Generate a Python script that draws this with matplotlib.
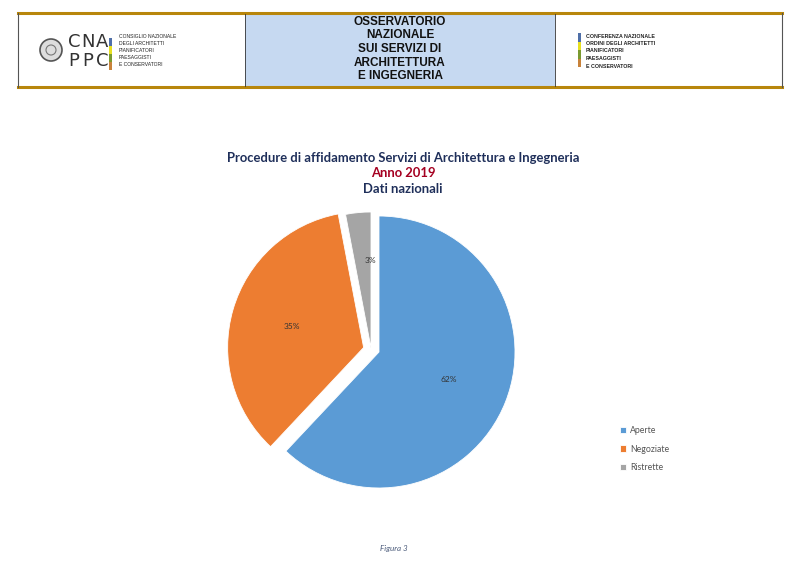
import matplotlib.pyplot as plt
from matplotlib.patches import Rectangle, Circle

# dati: procedure di affidamento SIA, anno 2019
categorie = ['Aperte', 'Negoziate', 'Ristrette']
percentuali = [62, 35, 3]
colori = ['#5b9bd5', '#ed7d31', '#a5a5a5']

titolo = 'Procedure di affidamento Servizi di Architettura e Ingegneria'
anno = 'Anno 2019'
sottotitolo = 'Dati nazionali'

testo_centro = ['OSSERVATORIO', 'NAZIONALE', 'SUI SERVIZI DI', 'ARCHITETTURA', 'E INGEGNERIA']
testo_sx = ['CONSIGLIO NAZIONALE', 'DEGLI ARCHITETTI', 'PIANIFICATORI', 'PAESAGGISTI', 'E CONSERVATORI']
testo_dx = ['CONFERENZA NAZIONALE', 'ORDINI DEGLI ARCHITETTI', 'PIANIFICATORI', 'PAESAGGISTI', 'E CONSERVATORI']
bande = ['#4f6fa8', '#e8e020', '#7a9a30', '#c8823a']

W, H = 800, 575
fig = plt.figure(figsize=(8, 5.75), dpi=100)
ax = fig.add_axes([0, 0, 1, 1])

# intestazione (coordinate in pixel, y verso il basso)
def Y(y):
    return H - y

oro = '#b8860b'
ax.add_patch(Rectangle((245, Y(86)), 310, 72, facecolor='#c6d9f1', edgecolor='none'))
ax.plot([18, 782], [Y(13), Y(13)], color=oro, lw=2.2)
ax.plot([18, 782], [Y(87), Y(87)], color=oro, lw=2.2)
ax.plot([18, 18], [Y(13), Y(87)], color='#555555', lw=0.8)
ax.plot([782, 782], [Y(13), Y(87)], color='#555555', lw=0.8)
ax.plot([245, 245], [Y(14), Y(86)], color='#333333', lw=0.6)
ax.plot([555, 555], [Y(14), Y(86)], color='#333333', lw=0.6)

for i, t in enumerate(testo_centro):
    ax.text(400, Y(22 + i * 13.5), t, ha='center', va='center', fontsize=8.5,
            fontweight='bold', family='Liberation Sans', color='#111111')

# logo a sinistra
ax.add_patch(Circle((51, Y(50)), 11, facecolor='#dddddd', edgecolor='#555555', lw=1.2))
ax.add_patch(Circle((51, Y(50)), 5, facecolor='none', edgecolor='#777777', lw=0.8))
for j, (riga, yy) in enumerate([('CNA', 42), ('PPC', 61)]):
    for k, ch in enumerate(riga):
        ax.text(74 + k * 14, Y(yy), ch, ha='center', va='center', fontsize=13,
                family='DejaVu Sans', color='#333333', transform=ax.transData)
for i, c in enumerate(bande):
    ax.add_patch(Rectangle((109, Y(38 + (i + 1) * 8)), 3, 8, facecolor=c, edgecolor='none'))
    ax.add_patch(Rectangle((578, Y(33 + (i + 1) * 8.5)), 3, 8.5, facecolor=c, edgecolor='none'))
for i, t in enumerate(testo_sx):
    ax.text(119, Y(36 + i * 7.2), t, ha='left', va='center', fontsize=3.6,
            family='Liberation Sans', color='#222222')
for i, t in enumerate(testo_dx):
    ax.text(586, Y(36 + i * 7.5), t, ha='left', va='center', fontsize=3.8,
            family='Liberation Sans', fontweight='bold', color='#222222')

# titolo
ax.text(403, Y(158), titolo, ha='center', va='center', fontsize=9.4, fontweight='bold',
        family='Lato', color='#1f2f5a')
ax.text(403, Y(173), anno, ha='center', va='center', fontsize=9.4, fontweight='bold',
        family='Lato', color='#a50021')
ax.text(403, Y(189), sottotitolo, ha='center', va='center', fontsize=9.4, fontweight='bold',
        family='Lato', color='#1f2f5a')

# torta
cx, cy, r = 379, Y(352), 136
wedges, testi, pct = ax.pie(percentuali, colors=colori, startangle=90, counterclock=False,
                            explode=[0, 16, 0], center=(cx, cy), radius=r,
                            autopct='%d%%', pctdistance=0.55, labels=None,
                            wedgeprops=dict(edgecolor='white', linewidth=0.6),
                            textprops=dict(fontsize=6, color='#333333', family='Lato'))
# la fetta "Ristrette" e' staccata verso l'alto a sinistra
wedges[2].set_center((cx - 8, cy + 4))
x0, y0 = pct[2].get_position()
pct[2].set_position((x0 - 2, y0 + 17))

ax.legend(wedges, categorie, loc='center left', bbox_to_anchor=(612 / W, 1 - 449 / H),
          bbox_transform=fig.transFigure, frameon=False, handlelength=0.7,
          handleheight=0.7, labelspacing=1.1, handletextpad=0.5,
          prop=dict(family='Lato', size=6.3))
for t in ax.get_legend().get_texts():
    t.set_color('#555555')

ax.text(394, Y(548), 'Figura 3', ha='center', va='center', fontsize=5.8, style='italic',
        family='Lato', color='#4a5a7a')

ax.set_xlim(0, W)
ax.set_ylim(0, H)
ax.set_aspect('auto')
ax.axis('off')

plt.savefig('out.png', dpi=100)
